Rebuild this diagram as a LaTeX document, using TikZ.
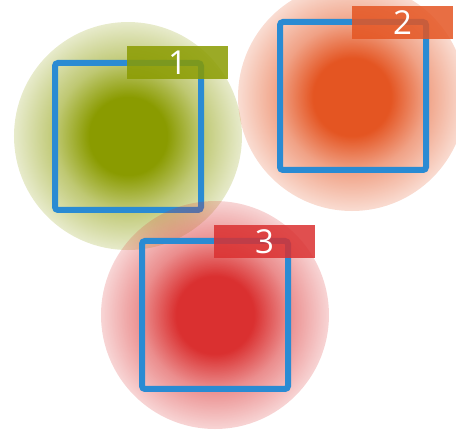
\documentclass[tikz,border=0pt]{standalone}
\usepackage{fontspec}
\setmainfont{Open Sans}
\usetikzlibrary{fadings}

\definecolor{blobgreen}{HTML}{8A9B00}
\definecolor{bloborange}{HTML}{E45522}
\definecolor{blobred}{HTML}{DA3030}
\definecolor{frameblue}{HTML}{2A8BD3}

% solid core, soft fade towards the rim (rim sits at 25bp once fitted)
\pgfdeclareradialshading{blobshade}{\pgfpointorigin}{%
  color(0bp)=(pgftransparent!0);
  color(8.5bp)=(pgftransparent!0);
  color(16bp)=(pgftransparent!45);
  color(25bp)=(pgftransparent!80);
  color(50bp)=(pgftransparent!80)}
\pgfdeclarefading{blob}{\pgfuseshading{blobshade}}

\tikzset{
  halo/.style={fill=#1, path fading=blob},
  frame/.style={draw=frameblue, line width=6pt, rounded corners=3pt},
  tag/.style={fill=#1, fill opacity=0.85, text opacity=1, text=white,
    minimum width=101pt, minimum height=33pt, inner sep=0pt,
    font=\fontsize{33}{33}\selectfont}
}

\begin{document}
\begin{tikzpicture}[x=1pt,y=-1pt]
  \useasboundingbox (0,0) rectangle (456,433);

  % group 1
  \fill[halo=blobgreen] (128,136) circle (114);
  \draw[frame] (55,63) rectangle (201,210);
  \node[tag=blobgreen] (t1) at (177.5,62.5) {1};

  % group 2
  \fill[halo=bloborange] (352,97) circle (114);
  \draw[frame] (280,22) rectangle (426,170);
  \node[tag=bloborange] (t2) at (402.5,22.5) {2};

  % group 3
  \fill[halo=blobred] (215,315) circle (114);
  \draw[frame] (142,241) rectangle (288,389);
  \node[tag=blobred] (t3) at (264.5,241.5) {3};
\end{tikzpicture}
\end{document}
